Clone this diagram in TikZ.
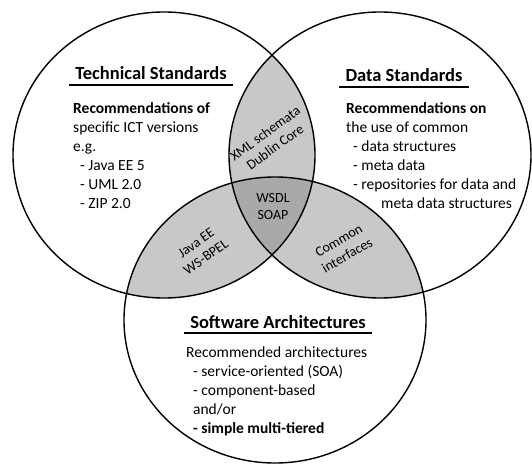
\documentclass[tikz,border=0pt]{standalone}
\usepackage{fontspec}
\setmainfont{Carlito}
\usetikzlibrary{positioning}
\definecolor{pairGray}{HTML}{C8C8C8}
\definecolor{coreGray}{HTML}{A9A9A9}
\newcommand\dashline{\hspace*{0.45em}- }

\begin{document}
\begin{tikzpicture}[
    x=1pt, y=1pt,
    venn/.style={x radius=151, y radius=143},
    set/.style={draw, line width=1.4pt},
    title/.style={font=\fontsize{18.5}{22}\selectfont\bfseries,
                  inner xsep=6pt, inner ysep=5pt, anchor=base},
    underline/.style={line width=1.8pt},
    body/.style={font=\fontsize{15.5}{19}\selectfont, align=left,
                 inner sep=0pt, anchor=north west},
    overlap/.style={font=\fontsize{14}{17}\selectfont, align=center,
                    inner sep=0pt},
]
    \useasboundingbox (0,0) rectangle (532,-465);
    \coordinate (tech) at (164,-155);
    \coordinate (data) at (380,-155);
    \coordinate (soft) at (275,-320);

    % shaded overlaps
    \begin{scope}
        \clip (tech) ellipse [venn];
        \fill[pairGray] (data) ellipse [venn];
        \fill[pairGray] (soft) ellipse [venn];
    \end{scope}
    \begin{scope}
        \clip (data) ellipse [venn];
        \fill[pairGray] (soft) ellipse [venn];
    \end{scope}
    \begin{scope}
        \clip (tech) ellipse [venn];
        \clip (data) ellipse [venn];
        \fill[coreGray] (soft) ellipse [venn];
    \end{scope}

    % outlines
    \draw[set] (tech) ellipse [venn];
    \draw[set] (data) ellipse [venn];
    \draw[set] (soft) ellipse [venn];

    % technical standards
    \node[title] (techtitle) at (151,-80) {Technical Standards};
    \draw[underline] (techtitle.south west) -- (techtitle.south east);
    \node[body] (techtext) at (73,-102)
        {\textbf{Recommendations of}\\ specific ICT versions\\ e.g.\\
         \dashline Java EE 5\\ \dashline UML 2.0\\ \dashline ZIP 2.0};

    % data standards
    \node[title] (datatitle) at (404,-82) {Data Standards};
    \draw[underline] (datatitle.south west) -- (datatitle.south east);
    \node[body] (datatext) at (346,-102)
        {\textbf{Recommendations on}\\ the use of common\\
         \dashline data structures\\ \dashline meta data\\
         \dashline repositories for data and\\
         \hspace*{35pt}meta data structures};

    % software architectures
    \node[title] (softtitle) at (278,-328) {Software Architectures};
    \draw[underline] (softtitle.south west) -- (softtitle.south east);
    \node[body] (softtext) at (186,-346.5)
        {Recommended architectures\\ \dashline service-oriented (SOA)\\
         \dashline component-based\\ \hspace*{0.45em}and/or\\
         \textbf{\dashline simple multi-tiered}};

    % overlap labels
    \node[overlap, rotate=36] (xml) at (270,-140) {XML schemata\\Dublin Core};
    \node[overlap] (wsdl) at (273,-207) {WSDL\\SOAP};
    \node[overlap, rotate=35] (java) at (201,-250) {Java EE\\WS-BPEL};
    \node[overlap, rotate=30] (common) at (343,-248) {Common\\interfaces};
\end{tikzpicture}
\end{document}
